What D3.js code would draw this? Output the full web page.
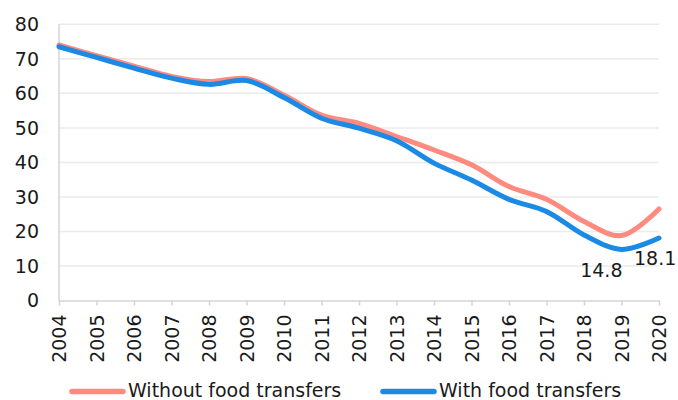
<!DOCTYPE html>
<html><head><meta charset="utf-8">
<script src="https://cdn.jsdelivr.net/npm/d3@7"></script>
<style>body{margin:0;background:#fff}svg{display:block}text{font-family:"DejaVu Sans",sans-serif;fill:#1a1a1a}</style>
</head><body>
<svg id="c" width="678" height="400"></svg>
<script>
const years = [2004,2005,2006,2007,2008,2009,2010,2011,2012,2013,2014,2015,2016,2017,2018,2019,2020];
const withoutFood = [74.0,70.9,67.9,64.9,63.4,64.3,59.5,53.7,51.3,47.5,43.6,39.3,33.0,29.3,22.9,18.8,26.5];
const withFood = [73.5,70.4,67.3,64.4,62.6,63.7,58.8,52.8,49.9,46.3,39.8,34.9,29.3,25.8,19.0,14.8,18.1];
const yTicks = [0,10,20,30,40,50,60,70,80];
const seriesNames = ["Without food transfers","With food transfers"];
const colors = ["#FF8A80","#1A8AE5"];

const svg = d3.select("#c");
const x = d3.scaleLinear().domain([2004,2020]).range([59,659]);
const y = d3.scaleLinear().domain([0,80]).range([300.5,24.3]);
const fs = 19;

// grid
svg.append("g").selectAll("line").data(yTicks.filter(d=>d>0)).join("line")
  .attr("x1",59).attr("x2",659).attr("y1",d=>y(d)).attr("y2",d=>y(d))
  .attr("stroke","#ebebeb").attr("stroke-width",1.5);
// y labels
svg.append("g").selectAll("text").data(yTicks).join("text")
  .attr("x",39).attr("y",d=>y(d)).attr("dy","0.36em").attr("text-anchor","end")
  .attr("font-size",fs).text(d=>d);
// axes
const xa = svg.append("g").attr("transform","translate(0,300.5)")
  .call(d3.axisBottom(x).tickValues(years).tickFormat(d3.format("d")).tickSize(5).tickSizeOuter(0));
xa.select(".domain").attr("stroke","#d3d3dc").attr("stroke-width",1.5);
xa.selectAll(".tick line").attr("stroke","#d3d3dc").attr("stroke-width",1.5);
xa.selectAll(".tick text").attr("font-size",fs).attr("font-family","DejaVu Sans").attr("fill","#1a1a1a")
  .attr("transform","rotate(-90)").attr("text-anchor","end").attr("x",-14).attr("y",0).attr("dy","0.36em");
svg.append("line").attr("x1",59).attr("x2",59).attr("y1",24).attr("y2",301)
  .attr("stroke","#d3d3dc").attr("stroke-width",1.5);

const line = d3.line().x((d,i)=>x(years[i])).y(d=>y(d)).curve(d3.curveCatmullRom.alpha(0.5));
[withoutFood,withFood].forEach((s,k)=>{
  svg.append("path").attr("d",line(s)).attr("fill","none").attr("stroke",colors[k])
    .attr("stroke-width",5).attr("stroke-linecap","round");
});
// data labels
svg.append("text").attr("x",x(2019)+1).attr("y",y(withFood[15])+28).attr("text-anchor","end")
  .attr("font-size",fs).text(withFood[15].toFixed(1));
svg.append("text").attr("x",x(2020)-25).attr("y",y(withFood[16])+27).attr("text-anchor","start")
  .attr("font-size",fs).text(withFood[16].toFixed(1));
// legend
const lg = [{x:70,t:seriesNames[0],c:colors[0]},{x:381,t:seriesNames[1],c:colors[1]}];
lg.forEach(l=>{
  svg.append("line").attr("x1",l.x+2).attr("x2",l.x+53).attr("y1",391.5).attr("y2",391.5)
    .attr("stroke",l.c).attr("stroke-width",5.5).attr("stroke-linecap","round");
  svg.append("text").attr("x",l.x+58).attr("y",397).attr("font-size",fs).text(l.t);
});
</script>
</body></html>
